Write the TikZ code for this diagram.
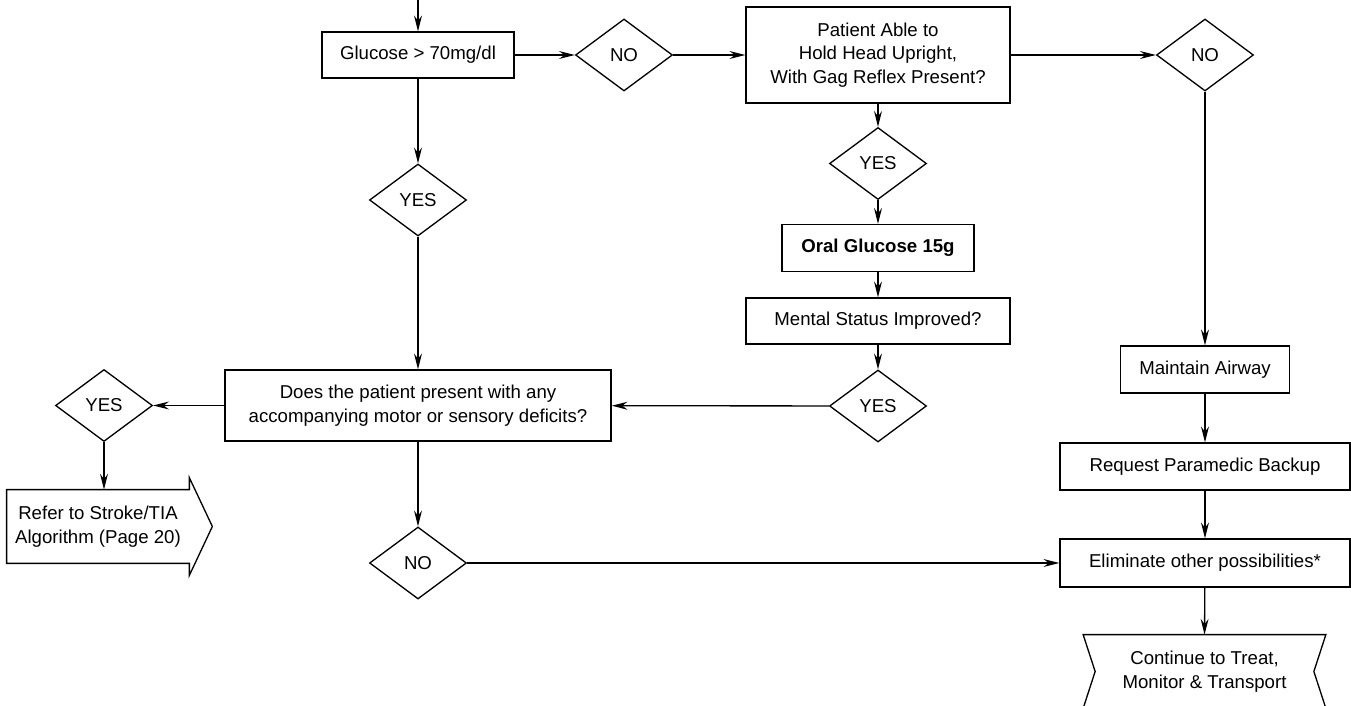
\documentclass[tikz,border=0pt]{standalone}
\usepackage{fontspec}
\setmainfont{Liberation Sans}
\usetikzlibrary{calc,arrows.meta,shapes.geometric}
\tikzset{
  flowbox/.style={draw, line width=0.75pt, align=center, inner sep=0pt, minimum height=0.94cm},
  choice/.style={draw, diamond, line width=0.75pt, inner sep=0pt, minimum width=1.94cm, minimum height=1.44cm},
  flowline/.style={line width=0.75pt, -{Stealth[length=9pt,width=4.5pt,inset=3pt]}}
}

\begin{document}
\begin{tikzpicture}[font=\fontsize{10.6}{13.4}\selectfont]
		%%%%% START %%%%%
		\useasboundingbox (0,0) rectangle (27.02,-14.12);
		
		\coordinate (start) at (8.36, 0);
		\node[flowbox, minimum width=3.84cm, minimum height=0.92cm] (glu) at (8.36, -1.10) {Glucose > 70mg/dl};
		\node[choice] (no1) at (12.48, -1.10) {NO};
		\node[flowbox, minimum width=5.28cm, minimum height=1.92cm] (pat) at (17.56, -1.10) {Patient Able to\\Hold Head Upright,\\With Gag Reflex Present?};
		\node[choice] (no2) at (24.10, -1.10) {NO};
		
		\node[choice] (yes2) at (17.56, -3.27) {YES};
		\node[flowbox, minimum width=3.84cm, font=\fontsize{10.6}{13.4}\selectfont\bfseries] (oral) at (17.56, -4.96) {Oral Glucose 15g};
		\node[flowbox, minimum width=5.28cm, minimum height=0.92cm] (ment) at (17.56, -6.42) {Mental Status Improved?};
		\node[choice] (yes3) at (17.56, -8.12) {YES};
		
		\node[choice] (yes1) at (8.36, -4.00) {YES};
		\node[flowbox, minimum width=7.72cm, minimum height=1.42cm] (does) at (8.36, -8.11) {Does the patient present with any\\accompanying motor or sensory deficits?};
		\node[choice] (yes4) at (2.08, -8.11) {YES};
		\node[choice] (no3) at (8.36, -11.26) {NO};
		
		\node[flowbox, minimum width=3.38cm] (air) at (24.10, -7.39) {Maintain Airway};
		\node[flowbox, minimum width=5.80cm] (req) at (24.10, -9.33) {Request Paramedic Backup};
		\node[flowbox, minimum width=5.80cm, minimum height=0.96cm] (elim) at (24.10, -11.26) {Eliminate other possibilities*};
		
		% arrow shaped box on the left
		\node[align=center, inner sep=0pt, minimum width=3.64cm, minimum height=1.46cm] (refer) at (1.96, -10.53) {Refer to Stroke/TIA\\Algorithm (Page 20)};
		\draw[line width=0.75pt] (refer.north west) -- (refer.north east) -- ($(refer.north east)+(0,0.24)$) -- ($(refer.east)+(0.46,0)$) -- ($(refer.south east)+(0,-0.24)$) -- (refer.south east) -- (refer.south west) -- cycle;
		
		% end box, notched on both sides
		\node[align=center, inner sep=0pt, minimum width=4.84cm, minimum height=1.46cm] (cont) at (24.09, -13.43) {Continue to Treat,\\Monitor \& Transport};
		\draw[line width=0.75pt] (cont.north west) -- (cont.north east) -- ($(cont.east)+(-0.24,0)$) -- (cont.south east) -- (cont.south west) -- ($(cont.west)+(0.24,0)$) -- cycle;
		
		\draw[flowline] (start) -- (glu.north);
		\draw[flowline] (glu) -- (no1);
		\draw[flowline] (no1) -- (pat);
		\draw[flowline] (pat) -- (no2);
		\draw[flowline] (no2) -- (air);
		\draw[flowline] (air) -- (req);
		\draw[flowline] (req) -- (elim);
		\draw[flowline] (elim) -- (cont.north);
		
		\draw[flowline] (pat) -- (yes2);
		\draw[flowline] (yes2) -- (oral);
		\draw[flowline] (oral) -- (ment);
		\draw[flowline] (ment) -- (yes3);
		\draw[flowline] (yes3) -- (does);
		
		\draw[flowline] (glu) -- (yes1);
		\draw[flowline] (yes1) -- (does);
		\draw[flowline] (does) -- (yes4);
		\draw[flowline] (yes4) -- (yes4.south |- refer.north);
		\draw[flowline] (does) -- (no3);
		\draw[flowline] (no3) -- (elim);
		
		%%%%% END %%%%%
\end{tikzpicture}
\end{document}
